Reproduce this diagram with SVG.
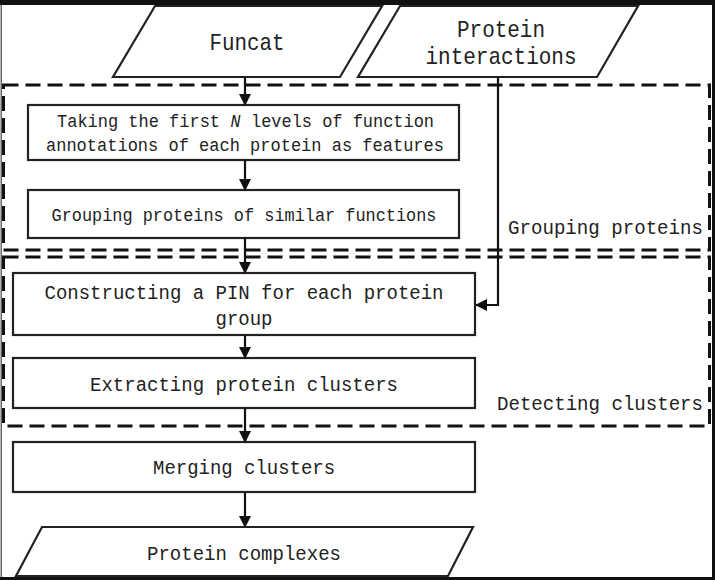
<svg xmlns="http://www.w3.org/2000/svg" width="715" height="580" viewBox="0 0 715 580">
<style>
.t{font-family:"Liberation Mono","DejaVu Sans Mono",monospace;fill:#222;text-anchor:middle}
.l{font-family:"Liberation Mono","DejaVu Sans Mono",monospace;fill:#222}
.box{fill:#fff;stroke:#222;stroke-width:2.2}
.dash{fill:none;stroke:#111;stroke-width:3;stroke-dasharray:15 7}
.c{fill:none;stroke:#111;stroke-width:2.2}
</style>
<defs>
<marker id="ah" markerWidth="12" markerHeight="12" refX="11" refY="6" orient="auto" markerUnits="userSpaceOnUse">
<path d="M0,0 L12,6 L0,12 Z" fill="#111"/>
</marker>
</defs>
<rect x="0" y="0" width="715" height="580" fill="#fff"/>
<g id="frame">
<rect x="0" y="0" width="715" height="5" fill="#111"/>
<rect x="712" y="0" width="3" height="580" fill="#111"/>
<rect x="0" y="577" width="715" height="3" fill="#111"/>
<rect x="0.5" y="5" width="1.5" height="572" fill="#666"/>
</g>
<g id="region-grouping">
<rect class="dash" x="3.5" y="85" width="706" height="165"/>
<text class="l" x="508" y="234" font-size="20" textLength="195" lengthAdjust="spacingAndGlyphs">Grouping proteins</text>
</g>
<g id="region-detecting">
<rect class="dash" x="3.5" y="257" width="706" height="169"/>
<text class="l" x="497" y="410" font-size="20" textLength="206" lengthAdjust="spacingAndGlyphs">Detecting clusters</text>
</g>
<g id="funcat">
<polygon class="box" points="155,6 382,6 340,77 113,77"/>
<text class="t" x="247" y="50" font-size="24" textLength="75" lengthAdjust="spacingAndGlyphs">Funcat</text>
</g>
<g id="protein-interactions">
<polygon class="box" points="400,6 638,6 597,77 358,77"/>
<text class="t" x="501" y="37" font-size="24" textLength="88" lengthAdjust="spacingAndGlyphs">Protein</text>
<text class="t" x="501" y="64" font-size="24" textLength="151" lengthAdjust="spacingAndGlyphs">interactions</text>
</g>
<g id="take-levels">
<rect class="box" x="28" y="105" width="431" height="55"/>
<text class="l" x="57" y="127" font-size="18" textLength="163" lengthAdjust="spacingAndGlyphs">Taking the first</text>
<text class="l" x="230.5" y="127" font-size="18" font-style="italic" textLength="10" lengthAdjust="spacingAndGlyphs">N</text>
<text class="l" x="251" y="127" font-size="18" textLength="183" lengthAdjust="spacingAndGlyphs">levels of function</text>
<text class="t" x="245" y="151" font-size="18" textLength="398" lengthAdjust="spacingAndGlyphs">annotations of each protein as features</text>
</g>
<g id="group-proteins">
<rect class="box" x="28" y="190" width="431" height="48"/>
<text class="t" x="244" y="221" font-size="18" textLength="385" lengthAdjust="spacingAndGlyphs">Grouping proteins of similar functions</text>
</g>
<g id="construct-pin">
<rect class="box" x="13" y="273" width="462" height="62"/>
<text class="t" x="244" y="299" font-size="20" textLength="399" lengthAdjust="spacingAndGlyphs">Constructing a PIN for each protein</text>
<text class="t" x="244" y="325" font-size="20" textLength="57" lengthAdjust="spacingAndGlyphs">group</text>
</g>
<g id="extract-clusters">
<rect class="box" x="13" y="358" width="462" height="50"/>
<text class="t" x="244" y="391" font-size="20" textLength="308" lengthAdjust="spacingAndGlyphs">Extracting protein clusters</text>
</g>
<g id="merge-clusters">
<rect class="box" x="13" y="442" width="462" height="50"/>
<text class="t" x="244" y="474" font-size="20" textLength="182" lengthAdjust="spacingAndGlyphs">Merging clusters</text>
</g>
<g id="protein-complexes">
<polygon class="box" points="42,527 473,527 448,576 16,576"/>
<text class="t" x="244" y="560" font-size="20" textLength="194" lengthAdjust="spacingAndGlyphs">Protein complexes</text>
</g>
<g id="connectors">
<line class="c" x1="245" y1="77" x2="245" y2="105" marker-end="url(#ah)"/>
<line class="c" x1="245" y1="160" x2="245" y2="190" marker-end="url(#ah)"/>
<line class="c" x1="245" y1="238" x2="245" y2="273" marker-end="url(#ah)"/>
<line class="c" x1="245" y1="335" x2="245" y2="358" marker-end="url(#ah)"/>
<line class="c" x1="245" y1="408" x2="245" y2="442" marker-end="url(#ah)"/>
<line class="c" x1="245" y1="492" x2="245" y2="527" marker-end="url(#ah)"/>
<polyline class="c" points="498,77 498,305 476,305" marker-end="url(#ah)"/>
</g>
</svg>
